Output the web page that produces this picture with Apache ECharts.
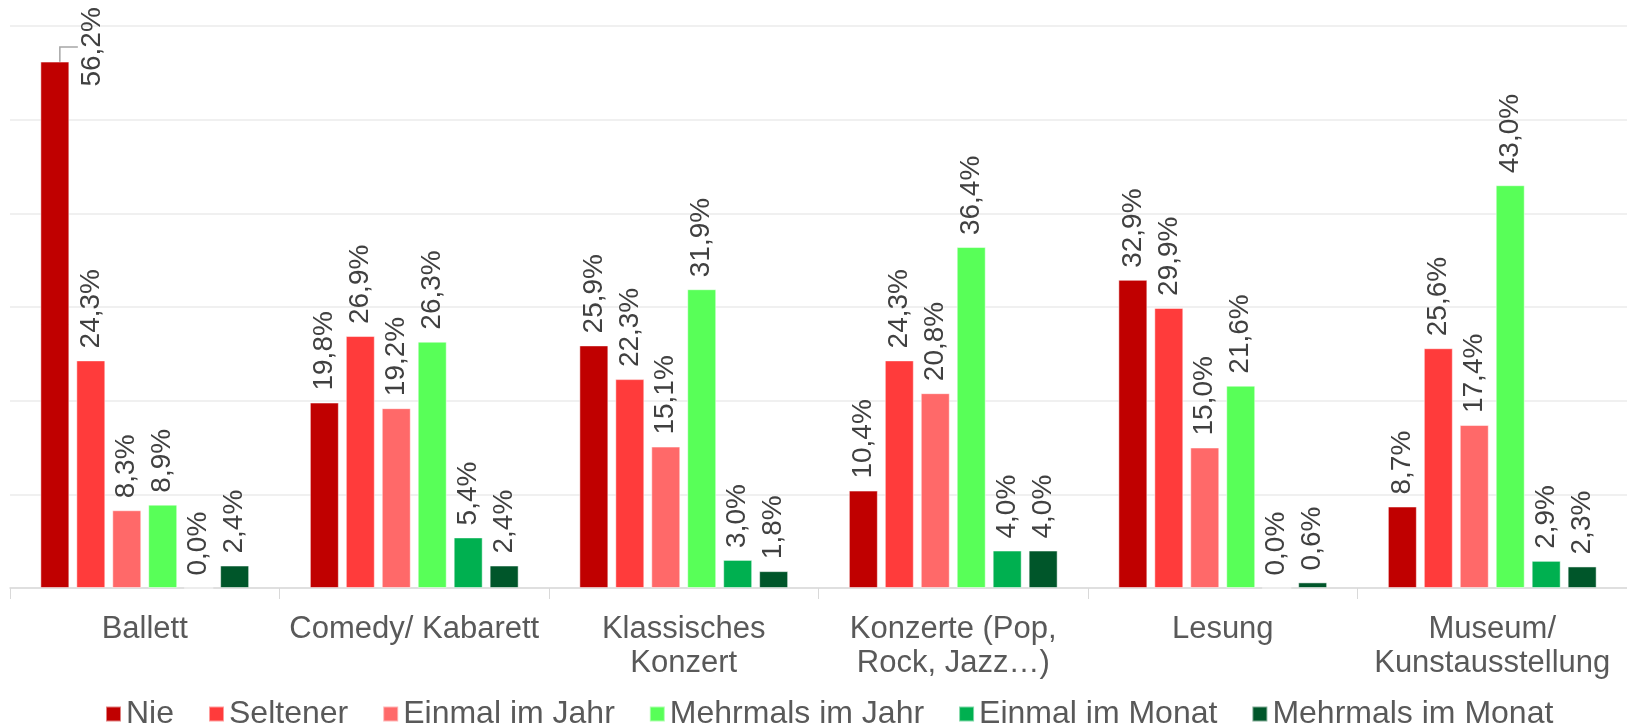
<!DOCTYPE html>
<html>
<head>
<meta charset="utf-8">
<script src="https://cdn.jsdelivr.net/npm/echarts@6/dist/echarts.min.js"></script>
<style>
    html, body { margin: 0; padding: 0; background: #fff; }
    #chart { width: 1627px; height: 725px; }
</style>
</head>
<body>
<div id="chart"></div>
<script>
var categories = ['Ballett', 'Comedy/ Kabarett', 'Klassisches\nKonzert', 'Konzerte (Pop,\nRock, Jazz…)', 'Lesung', 'Museum/\nKunstausstellung'];
var seriesNames = ['Nie', 'Seltener', 'Einmal im Jahr', 'Mehrmals im Jahr', 'Einmal im Monat', 'Mehrmals im Monat'];
var seriesColors = ['#C00000', '#FF3B3B', '#FF6969', '#58FF58', '#00B050', '#00562A'];

var nie = [56.2, 19.8, 25.9, 10.4, 32.9, 8.7];
var seltener = [24.3, 26.9, 22.3, 24.3, 29.9, 25.6];
var einmalJahr = [8.3, 19.2, 15.1, 20.8, 15.0, 17.4];
var mehrmalsJahr = [8.9, 26.3, 31.9, 36.4, 21.6, 43.0];
var einmalMonat = [0.0, 5.4, 3.0, 4.0, 0.0, 2.9];
var mehrmalsMonat = [2.4, 2.4, 1.8, 4.0, 0.6, 2.3];

var values = [nie, seltener, einmalJahr, mehrmalsJahr, einmalMonat, mehrmalsMonat];

var font = '"Liberation Sans", Arial, sans-serif';

function fmt(p) {
    return p.value.toFixed(1).replace('.', ',') + '%';
}

var series = values.map(function(vals, i) {
    var s = {
        name: seriesNames[i],
        type: 'bar',
        data: vals.slice(),
        barWidth: 29,
        barGap: '24%',
        itemStyle: { color: seriesColors[i], borderColor: 'rgba(255,255,255,0.5)', borderWidth: 1 },
        labelLine: { show: false, length2: 18, lineStyle: { color: '#A6A6A6', width: 1.5 } },
        label: {
            show: true,
            position: 'top',
            rotate: 90,
            align: 'left',
            verticalAlign: 'middle',
            distance: 12,
            color: '#404040',
            fontFamily: font,
            fontSize: 28,
            formatter: fmt
        }
    };
    if (i === 0) {
        // oberstes Label ist verschoben, mit Fuehrungslinie
        s.data[0] = { value: vals[0], labelLine: { show: true } };
        s.labelLayout = function(p) {
            if (p.dataIndex !== 0) return {};
            // gedrehtes Label: dx/dy wirken im gedrehten System
            return { dx: -37, dy: 37 };
        };
    }
    return s;
});

var chart = echarts.init(document.getElementById('chart'));
chart.setOption({
    animation: false,
    color: seriesColors,
    grid: { left: 10, right: 0, top: 26, bottom: 137, containLabel: false },
    legend: {
        data: seriesNames,
        top: 693,
        left: 100,
        itemWidth: 15,
        itemHeight: 15,
        itemGap: 34,
        icon: 'rect',
        textStyle: { color: '#595959', fontFamily: font, fontSize: 32 }
    },
    xAxis: {
        type: 'category',
        data: categories,
        axisLine: { lineStyle: { color: '#D9D9D9', width: 1.5 } },
        axisTick: { show: true, length: 11, lineStyle: { color: '#D9D9D9' } },
        axisLabel: {
            color: '#595959',
            fontFamily: font,
            fontSize: 31,
            lineHeight: 34,
            margin: 24,
            interval: 0
        }
    },
    yAxis: {
        type: 'value',
        min: 0,
        max: 60,
        interval: 10,
        axisLabel: { show: false },
        axisLine: { show: false },
        axisTick: { show: false },
        splitLine: { lineStyle: { color: '#EBEBEB', width: 1.5 } }
    },
    series: series
});
</script>
</body>
</html>
